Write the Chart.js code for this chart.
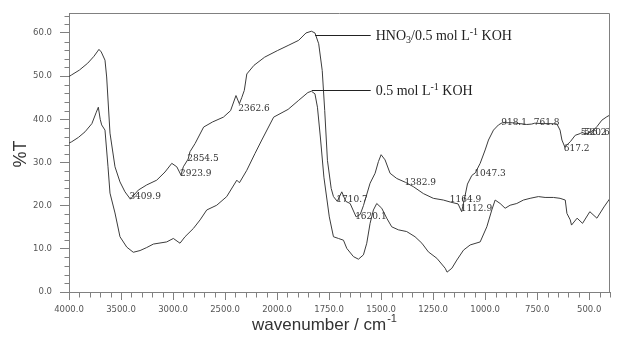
<!DOCTYPE html>
<html>
<head>
<meta charset="utf-8">
<script src="https://cdn.jsdelivr.net/npm/chart.js@4.4.1/dist/chart.umd.min.js"></script>
<style>
html,body{margin:0;padding:0;background:#fff;}
#wrap{position:relative;width:620px;height:337px;}
</style>
</head>
<body>
<div id="wrap"><canvas id="c" width="620" height="337"></canvas></div>
<script>
// ---------- data ----------
const X_TICKS = [4000, 3500, 3000, 2500, 2000, 1750, 1500, 1250, 1000, 750, 500];
const Y_TICKS = [0, 10, 20, 30, 40, 50, 60];

const SERIES_NAMES = ['HNO3/0.5 mol L-1 KOH', '0.5 mol L-1 KOH'];

// HNO3 / 0.5 mol L-1 KOH (upper trace)
const WN_HNO3 = [
  4000, 3974, 3900, 3820, 3760, 3730, 3712, 3690, 3654, 3638,
  3606, 3558, 3510, 3462, 3409.9, 3334, 3253, 3157, 3077, 3012,
  2964, 2923.9, 2901, 2854.5, 2837, 2788, 2706, 2619, 2516, 2447,
  2395, 2362.6, 2340, 2315, 2291, 2222, 2119, 1999, 1947, 1896,
  1861, 1835, 1818, 1800, 1783, 1771, 1758, 1740, 1729, 1710.7,
  1689, 1670, 1649, 1620.1, 1600, 1585, 1553, 1529, 1513, 1500,
  1481, 1457, 1425, 1382.9, 1345, 1297, 1249, 1201, 1164.9, 1130,
  1112.9, 1100, 1085, 1064, 1047.3, 1024, 1000, 984, 960, 936,
  918.1, 870, 832, 800, 776, 761.8, 720, 688, 655, 640,
  631, 617.2, 591, 567, 543, 536.2, 520.6, 503, 479, 463,
  439, 415, 400
];
const T_HNO3 = [
  49.9, 50.3, 51.4, 53.0, 54.6, 55.6, 56.2, 55.6, 53.7, 49.8,
  36.8, 29.0, 25.5, 23.2, 21.5, 23.6, 24.8, 25.9, 27.8, 29.8,
  29.0, 27.1, 29.0, 30.8, 32.5, 34.4, 38.2, 39.4, 40.5, 42.0,
  45.5, 43.6, 45.0, 46.7, 50.5, 52.5, 54.4, 55.9, 57.1, 58.3,
  60.0, 60.4, 60.0, 57.5, 51.3, 42.0, 30.5, 24.0, 22.1, 21.0,
  23.2, 21.0, 20.5, 17.4, 18.0, 20.0, 25.2, 27.5, 30.2, 31.8,
  30.6, 27.5, 26.3, 25.4, 24.4, 22.8, 21.7, 21.3, 20.8, 20.4,
  18.6, 21.5, 25.0, 27.0, 27.6, 29.8, 32.9, 35.2, 37.5, 38.7,
  39.2, 39.2, 39.0, 38.8, 38.9, 39.1, 39.0, 39.0, 38.9, 37.5,
  35.2, 33.6, 34.8, 36.3, 36.7, 37.0, 36.7, 36.8, 37.5, 38.3,
  39.8, 40.6, 41.0
];

// 0.5 mol L-1 KOH (lower trace)
const WN_KOH = [
  4000, 3974, 3910, 3846, 3780, 3740, 3718, 3700, 3686, 3654,
  3625, 3606, 3558, 3510, 3445, 3382, 3317, 3253, 3189, 3061,
  2997, 2933, 2885, 2805, 2740, 2676, 2580, 2484, 2387, 2362,
  2291, 2212, 2147, 2033, 1947, 1896, 1852, 1835, 1818, 1806,
  1792, 1775, 1749, 1729, 1705, 1681, 1665, 1633, 1609, 1585,
  1569, 1553, 1537, 1521, 1497, 1473, 1449, 1417, 1377, 1337,
  1304, 1273, 1232, 1192, 1183, 1160, 1136, 1104, 1072, 1024,
  992, 968, 952, 928, 904, 880, 848, 816, 784, 744,
  712, 672, 640, 615, 607, 591, 585, 558, 532, 497,
  463, 429, 400
];
const T_KOH = [
  34.5, 34.8, 35.8, 37.1, 39.0, 41.5, 42.8, 40.0, 38.7, 37.5,
  29.0, 22.9, 18.3, 12.8, 10.4, 9.2, 9.6, 10.3, 11.1, 11.6,
  12.4, 11.3, 12.8, 14.7, 16.7, 19.0, 20.1, 22.1, 25.9, 25.3,
  28.2, 32.1, 35.2, 40.5, 42.3, 44.4, 46.2, 46.5, 45.9, 42.8,
  35.9, 26.6, 17.4, 12.8, 12.4, 12.0, 10.1, 8.2, 7.6, 8.6,
  11.3, 15.9, 19.0, 20.5, 19.4, 17.1, 15.1, 14.4, 14.0, 12.8,
  11.3, 9.3, 7.8, 5.5, 4.6, 5.5, 7.4, 9.7, 10.9, 11.6,
  15.1, 19.0, 21.3, 20.5, 19.4, 20.1, 20.5, 21.3, 21.7, 22.1,
  21.9, 21.9, 21.7, 21.3, 18.2, 16.7, 15.5, 17.1, 15.9, 18.6,
  17.1, 19.7, 21.7
];

// peak labels (wavenumber, %T where the label sits)
const PEAK_WN = [3409.9, 2923.9, 2854.5, 2362.6, 1710.7, 1620.1, 1382.9, 1164.9, 1112.9, 1047.3, 918.1, 761.8, 617.2, 536.2, 520.6];
const PEAK_T  = [22.1, 27.5, 30.9, 42.4, 21.3, 17.4, 25.3, 21.5, 19.4, 27.5, 39.2, 39.2, 33.3, 36.8, 36.8];

// leader lines for the trace names
const LEGEND_START_WN = [1817, 1833];
const LEGEND_END_WN = 1550;
const LEGEND_T = [59.5, 46.8];

// ---------- style ----------
const AXIS_COLOR = '#808080';
const LINE_COLOR = '#3c3c3c';
const TEXT_COLOR = '#333333';

// ---------- split-scale x axis (4000-2000 compressed, 2000-400 expanded) ----------
const X_MIN = 400, X_MAX = 4000, X_BREAK = 2000;
function wnPos(w) {
  return w >= X_BREAK ? (X_MAX - w) / 10 : (X_MAX - X_BREAK) / 10 + (X_BREAK - w) / 5;
}
function posWn(p) {
  const b = (X_MAX - X_BREAK) / 10;
  return p <= b ? X_MAX - p * 10 : X_BREAK - (p - b) * 5;
}
class FtirScale extends Chart.LinearScale {
  getPixelForValue(v) {
    const span = wnPos(X_MIN);
    return this.left + wnPos(v) / span * this.width;
  }
  getValueForPixel(px) {
    const span = wnPos(X_MIN);
    return posWn((px - this.left) / this.width * span);
  }
}
FtirScale.id = 'ftir';
FtirScale.defaults = {};
Chart.register(FtirScale);

const X_MINOR = [];
for (let v = 3900; v > 2000; v -= 100) if (!X_TICKS.includes(v)) X_MINOR.push(v);
for (let v = 1950; v >= 400; v -= 50) if (!X_TICKS.includes(v)) X_MINOR.push(v);
const Y_MINOR = [];
for (let v = 2; v <= 64; v += 2) if (!Y_TICKS.includes(v)) Y_MINOR.push(v);

function drawRich(ctx, x, y, parts, size) {
  let cx = x;
  parts.forEach(([txt, kind]) => {
    const s = kind ? Math.round(size * 0.68) : size;
    ctx.font = s + 'px "Liberation Serif", "Times New Roman", serif';
    const dy = kind === 'sub' ? size * 0.28 : kind === 'sup' ? -size * 0.33 : 0;
    ctx.fillText(txt, cx, y + dy);
    cx += ctx.measureText(txt).width;
  });
}

const LEGEND_PARTS = [
  [['HNO', ''], ['3', 'sub'], ['/0.5 mol L', ''], ['-1', 'sup'], [' KOH', '']],
  [['0.5 mol L', ''], ['-1', 'sup'], [' KOH', '']]
];

const decor = {
  id: 'decor',
  afterDraw(chart) {
    const { ctx, chartArea: a, scales: { x, y } } = chart;
    ctx.save();
    ctx.strokeStyle = AXIS_COLOR;
    ctx.lineWidth = 1;
    // top and right frame
    const L = Math.round(a.left) + 0.5, R = Math.round(a.right) - 0.5;
    const T = Math.round(a.top) + 0.5, B = Math.round(a.bottom) + 0.5;
    ctx.beginPath();
    ctx.moveTo(L, T); ctx.lineTo(R, T); ctx.lineTo(R, B);
    ctx.stroke();
    // minor ticks
    ctx.beginPath();
    X_MINOR.forEach(v => {
      const px = Math.round(x.getPixelForValue(v)) + 0.5;
      ctx.moveTo(px, B); ctx.lineTo(px, B + 5);
    });
    Y_MINOR.forEach(v => {
      const py = Math.round(y.getPixelForValue(v)) + 0.5;
      ctx.moveTo(L, py); ctx.lineTo(L - 5, py);
    });
    ctx.stroke();

    // peak labels
    ctx.fillStyle = TEXT_COLOR;
    ctx.textAlign = 'left';
    ctx.textBaseline = 'middle';
    ctx.font = '9px "DejaVu Serif", serif';
    PEAK_WN.forEach((w, i) => {
      ctx.fillText(w.toFixed(1), x.getPixelForValue(w) - 1, y.getPixelForValue(PEAK_T[i]));
    });

    // trace name leaders
    ctx.strokeStyle = '#222';
    const xe = x.getPixelForValue(LEGEND_END_WN);
    LEGEND_T.forEach((t, i) => {
      const py = Math.round(y.getPixelForValue(t)) + 0.5;
      ctx.beginPath();
      ctx.moveTo(x.getPixelForValue(LEGEND_START_WN[i]), py);
      ctx.lineTo(xe, py);
      ctx.stroke();
      ctx.fillStyle = '#222';
      drawRich(ctx, xe + 5, py + 1, LEGEND_PARTS[i], 14);
    });

    // axis titles
    ctx.fillStyle = TEXT_COLOR;
    ctx.textBaseline = 'alphabetic';
    ctx.font = '17px "Liberation Sans", Arial, sans-serif';
    const t1 = 'wavenumber / cm';
    const w1 = ctx.measureText(t1).width;
    ctx.font = '11px "Liberation Sans", Arial, sans-serif';
    const w2 = ctx.measureText('-1').width;
    const xs = 324 - (w1 + w2) / 2;
    ctx.font = '17px "Liberation Sans", Arial, sans-serif';
    ctx.fillText(t1, xs, 330);
    ctx.font = '11px "Liberation Sans", Arial, sans-serif';
    ctx.fillText('-1', xs + w1 + 1, 322);

    ctx.save();
    ctx.translate(26, 154);
    ctx.rotate(-Math.PI / 2);
    ctx.textAlign = 'center';
    ctx.font = '18px "Liberation Sans", Arial, sans-serif';
    ctx.fillText('%T', 0, 0);
    ctx.restore();

    ctx.restore();
  }
};

new Chart(document.getElementById('c'), {
  type: 'line',
  data: {
    datasets: [
      {
        label: SERIES_NAMES[0],
        data: WN_HNO3.map((w, i) => ({ x: w, y: T_HNO3[i] })),
        borderColor: LINE_COLOR, borderWidth: 1, pointRadius: 0, tension: 0, fill: false
      },
      {
        label: SERIES_NAMES[1],
        data: WN_KOH.map((w, i) => ({ x: w, y: T_KOH[i] })),
        borderColor: LINE_COLOR, borderWidth: 1, pointRadius: 0, tension: 0, fill: false
      }
    ]
  },
  options: {
    responsive: false,
    animation: false,
    devicePixelRatio: 1,
    events: [],
    layout: { padding: { top: 13, right: 10, left: 0, bottom: 0 } },
    plugins: { legend: { display: false }, tooltip: { enabled: false } },
    scales: {
      x: {
        type: 'ftir',
        min: X_MIN, max: X_MAX,
        afterBuildTicks: s => { s.ticks = X_TICKS.map(v => ({ value: v })); },
        afterFit: s => { s.height = 45; },
        grid: { display: true, drawOnChartArea: false, drawTicks: true, tickLength: 8, color: AXIS_COLOR, tickColor: AXIS_COLOR },
        border: { display: true, color: AXIS_COLOR },
        ticks: {
          autoSkip: false, maxRotation: 0, padding: 5, color: '#555',
          font: { family: 'DejaVu Sans', size: 8.5 },
          callback: v => Number(v).toFixed(1)
        }
      },
      y: {
        type: 'linear',
        min: 0, max: 64.6,
        afterBuildTicks: s => { s.ticks = Y_TICKS.map(v => ({ value: v })); },
        afterFit: s => { s.width = 69; },
        grid: { display: true, drawOnChartArea: false, drawTicks: true, tickLength: 9, color: AXIS_COLOR, tickColor: AXIS_COLOR },
        border: { display: true, color: AXIS_COLOR },
        ticks: {
          padding: 8, color: '#555',
          font: { family: 'DejaVu Sans', size: 8.5 },
          callback: v => Number(v).toFixed(1)
        }
      }
    }
  },
  plugins: [decor]
});
</script>
</body>
</html>
